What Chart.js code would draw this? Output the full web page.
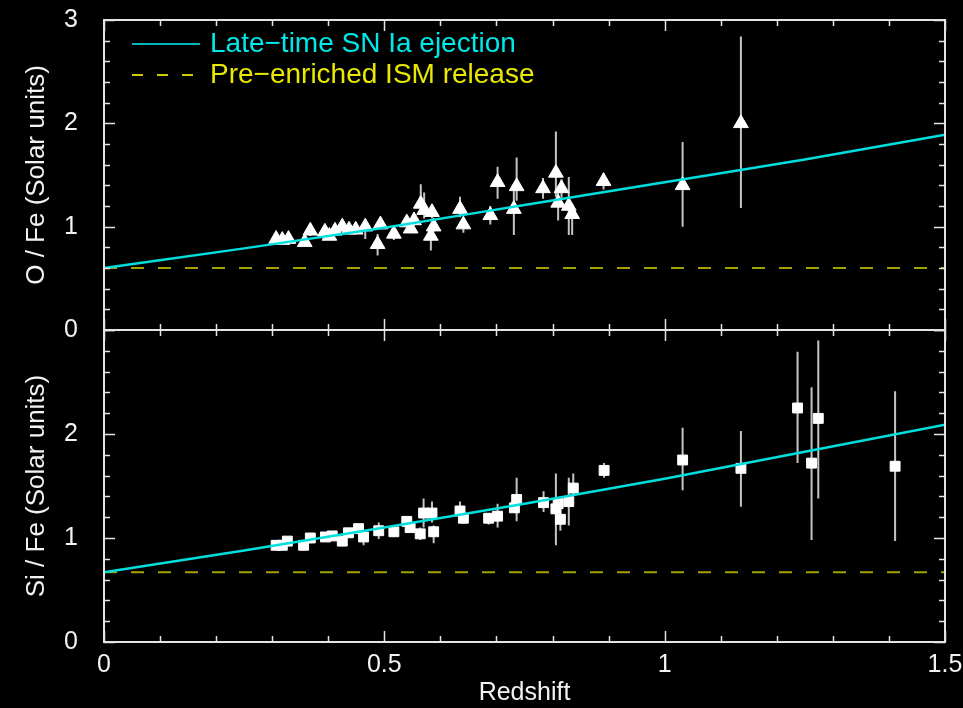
<!DOCTYPE html>
<html>
<head>
<meta charset="utf-8">
<script src="https://cdn.jsdelivr.net/npm/chart.js@4.4.1/dist/chart.umd.min.js"></script>
<style>
  html, body { margin: 0; padding: 0; background: #000; }
  #wrap { position: relative; width: 963px; height: 708px; background: #000; }
  #topBox { position: absolute; left: 0; top: 0; width: 963px; height: 345px; }
  #botBox { position: absolute; left: 0; top: 310px; width: 963px; height: 398px; }
</style>
</head>
<body>
<div id="wrap">
  <div id="topBox"><canvas id="topChart"></canvas></div>
  <div id="botBox"><canvas id="botChart"></canvas></div>
</div>
<script>
// O / Fe panel (triangles)
const oRedshift = [0.307, 0.318, 0.329, 0.358, 0.368, 0.394, 0.402, 0.412, 0.425, 0.437,
  0.449, 0.466, 0.488, 0.493, 0.517, 0.540, 0.547, 0.553, 0.565, 0.571,
  0.585, 0.588, 0.583, 0.635, 0.641, 0.689, 0.702, 0.736, 0.731, 0.783,
  0.806, 0.816, 0.810, 0.829, 0.835, 0.891, 1.032, 1.136];
const oFe = [0.88, 0.87, 0.88, 0.85, 0.96, 0.95, 0.91, 0.96, 1.00, 0.97,
  0.97, 1.00, 0.83, 1.02, 0.93, 1.04, 0.98, 1.06, 1.22, 1.16,
  1.14, 1.00, 0.91, 1.17, 1.02, 1.11, 1.43, 1.39, 1.17, 1.37,
  1.52, 1.37, 1.23, 1.20, 1.12, 1.44, 1.40, 2.00];
const oFeLow = [0.85, 0.84, 0.85, 0.81, 0.91, 0.91, 0.87, 0.92, 0.95, 0.93,
  0.93, 0.88, 0.72, 0.98, 0.87, 0.99, 0.94, 1.01, 1.12, 1.08,
  1.08, 0.95, 0.77, 1.09, 0.94, 1.02, 1.27, 1.25, 0.92, 1.27,
  1.29, 1.28, 1.06, 0.92, 0.92, 1.36, 1.00, 1.18];
const oFeHigh = [0.91, 0.90, 0.91, 0.89, 1.01, 0.99, 0.95, 1.00, 1.05, 1.01,
  1.01, 1.05, 0.93, 1.06, 0.99, 1.09, 1.02, 1.11, 1.41, 1.33,
  1.20, 1.05, 0.99, 1.29, 1.08, 1.20, 1.58, 1.67, 1.35, 1.47,
  1.92, 1.46, 1.36, 1.48, 1.22, 1.52, 1.82, 2.84];

// Si / Fe panel (squares)
const siRedshift = [0.307, 0.318, 0.327, 0.356, 0.368, 0.395, 0.407, 0.425, 0.436, 0.454,
  0.463, 0.490, 0.517, 0.540, 0.546, 0.564, 0.570, 0.585, 0.588, 0.635,
  0.641, 0.686, 0.702, 0.736, 0.732, 0.784, 0.806, 0.810, 0.814, 0.829,
  0.837, 0.892, 1.032, 1.136, 1.237, 1.262, 1.274, 1.411];
const siFe = [0.93, 0.93, 0.97, 0.93, 1.00, 1.01, 1.02, 0.97, 1.05, 1.09,
  1.01, 1.07, 1.06, 1.16, 1.10, 1.04, 1.24, 1.24, 1.06, 1.26,
  1.19, 1.19, 1.21, 1.37, 1.29, 1.34, 1.28, 1.33, 1.18, 1.35,
  1.48, 1.65, 1.75, 1.67, 2.25, 1.72, 2.15, 1.69];
const siFeLow = [0.91, 0.91, 0.94, 0.90, 0.95, 0.98, 0.99, 0.94, 1.02, 1.05,
  0.93, 0.99, 1.01, 1.12, 1.06, 0.98, 1.10, 1.15, 0.95, 1.17,
  1.14, 1.13, 1.10, 1.16, 1.24, 1.25, 0.93, 1.27, 1.07, 1.12,
  1.42, 1.58, 1.46, 1.30, 1.72, 0.98, 1.38, 0.97];
const siFeHigh = [0.95, 0.95, 1.00, 0.96, 1.05, 1.04, 1.05, 1.00, 1.08, 1.13,
  1.05, 1.15, 1.11, 1.20, 1.14, 1.10, 1.38, 1.35, 1.12, 1.35,
  1.24, 1.24, 1.33, 1.58, 1.34, 1.45, 1.62, 1.39, 1.30, 1.58,
  1.62, 1.72, 2.06, 2.03, 2.79, 2.45, 2.90, 2.41];

// model curves
const modelZ = [0, 0.25, 0.5, 0.75, 1, 1.25, 1.5];
const oModel = [0.60, 0.79, 0.99, 1.21, 1.43, 1.65, 1.89];
const siModel = [0.67, 0.88, 1.10, 1.33, 1.57, 1.83, 2.09];
const ismZ = [0, 1.5];
const oIsm = [0.60, 0.60];
const siIsm = [0.67, 0.67];

const legendNames = ['Late\u2212time SN Ia ejection', 'Pre\u2212enriched ISM release'];

const FONT = '"Liberation Sans", Arial, Helvetica, sans-serif';
const CYAN = '#00dede';
const OLIVE = '#a3a300';

function pts(xs, ys) {
  return xs.map((v, i) => ({x: v, y: ys[i]}));
}

// inward ticks + white frame
const frameTicks = {
  id: 'frameTicks',
  afterDraw(chart) {
    const {ctx, chartArea: a, scales: {x, y}} = chart;
    ctx.save();
    ctx.strokeStyle = '#e4e4e4';
    ctx.lineWidth = 1.5;
    ctx.beginPath();
    for (let i = 0; i <= 15; i++) {
      const px = Math.round(x.getPixelForValue(i / 10)) + 0.5;
      const len = i % 5 === 0 ? 11 : 6;
      ctx.moveTo(px, a.bottom); ctx.lineTo(px, a.bottom - len);
      ctx.moveTo(px, a.top); ctx.lineTo(px, a.top + len);
    }
    for (let i = 0; i <= 15; i++) {
      const py = Math.round(y.getPixelForValue(i / 5)) + 0.5;
      const len = i % 5 === 0 ? 11 : 6;
      ctx.moveTo(a.left, py); ctx.lineTo(a.left + len, py);
      ctx.moveTo(a.right, py); ctx.lineTo(a.right - len, py);
    }
    ctx.stroke();
    ctx.lineWidth = 2;
    ctx.strokeRect(a.left, a.top, a.right - a.left, a.bottom - a.top);
    ctx.restore();
  }
};

// vertical error bars under the markers
const errorBars = {
  id: 'errorBars',
  beforeDatasetsDraw(chart, args, opts) {
    const {ctx, scales: {x, y}} = chart;
    ctx.save();
    ctx.strokeStyle = '#c4c4c4';
    ctx.lineWidth = 2;
    ctx.beginPath();
    opts.xs.forEach((v, i) => {
      const px = x.getPixelForValue(v);
      ctx.moveTo(px, y.getPixelForValue(opts.lo[i]));
      ctx.lineTo(px, y.getPixelForValue(opts.hi[i]));
    });
    ctx.stroke();
    ctx.restore();
  }
};

const legendBox = {
  id: 'legendBox',
  afterDraw(chart) {
    const {ctx, chartArea: a} = chart;
    const x0 = a.left + 28, x1 = a.left + 96, tx = a.left + 106;
    const rows = [a.top + 24, a.top + 55];
    ctx.save();
    ctx.font = '28px ' + FONT;
    ctx.textBaseline = 'middle';
    ctx.lineWidth = 2;
    ctx.strokeStyle = '#00b8b8';
    ctx.beginPath(); ctx.moveTo(x0, rows[0]); ctx.lineTo(x1, rows[0]); ctx.stroke();
    ctx.fillStyle = '#00e8e8';
    ctx.fillText(legendNames[0], tx, rows[0]);
    ctx.strokeStyle = '#cccc00';
    ctx.setLineDash([11, 14]);
    ctx.beginPath(); ctx.moveTo(x0, rows[1]); ctx.lineTo(x1, rows[1]); ctx.stroke();
    ctx.setLineDash([]);
    ctx.fillStyle = '#e8e800';
    ctx.fillText(legendNames[1], tx, rows[1]);
    ctx.restore();
  }
};

function makeConfig(o) {
  return {
    type: 'scatter',
    data: {
      datasets: [
        {
          type: 'line',
          data: pts(modelZ, o.model),
          borderColor: CYAN,
          borderWidth: 2.5,
          pointRadius: 0,
          tension: 0.4,
          cubicInterpolationMode: 'monotone',
          fill: false
        },
        {
          type: 'line',
          data: pts(ismZ, o.ism),
          borderColor: OLIVE,
          borderWidth: 2,
          borderDash: [13, 14],
          pointRadius: 0,
          fill: false
        },
        {
          data: pts(o.xs, o.ys),
          pointStyle: o.marker,
          pointRadius: o.radius,
          pointBackgroundColor: '#ffffff',
          pointBorderColor: '#ffffff',
          pointBorderWidth: 1
        }
      ]
    },
    options: {
      responsive: false,
      animation: false,
      devicePixelRatio: 1,
      layout: { padding: o.padding, autoPadding: false },
      plugins: {
        legend: { display: false },
        tooltip: { enabled: false },
        errorBars: { xs: o.xs, lo: o.lo, hi: o.hi }
      },
      scales: {
        x: {
          type: 'linear',
          min: 0,
          max: 1.5,
          display: o.showX,
          grid: { display: false },
          border: { display: false },
          afterFit: (s) => {
            if (o.showX) s.height = 66;
            s.paddingLeft = 0; s.paddingRight = 0;
          },
          ticks: {
            stepSize: 0.5,
            color: '#f2f2f2',
            padding: 0,
            font: { family: FONT, size: 25 },
            callback: (v) => String(v)
          },
          title: {
            display: true,
            text: 'Redshift',
            color: '#f2f2f2',
            padding: { top: 0, bottom: 0 },
            font: { family: FONT, size: 25 }
          }
        },
        y: {
          min: 0,
          max: 3,
          grid: { display: false },
          border: { display: false },
          afterFit: (s) => {
            s.width = 104;
            s.paddingTop = 0; s.paddingBottom = 0;
          },
          ticks: {
            stepSize: 1,
            color: '#f2f2f2',
            padding: 18,
            font: { family: FONT, size: 25 },
            callback: (v) => (o.hideTop && v === 3 ? '' : String(v))
          },
          title: {
            display: true,
            text: o.yTitle,
            color: '#f2f2f2',
            padding: { top: 21, bottom: 0 },
            font: { family: FONT, size: 26 }
          }
        }
      }
    },
    plugins: o.extra.concat([errorBars, frameTicks])
  };
}

function sizeCanvas(id, w, h) {
  const c = document.getElementById(id);
  c.width = w; c.height = h;
  c.style.width = w + 'px'; c.style.height = h + 'px';
  return c;
}

const topChart = new Chart(sizeCanvas('topChart', 963, 345), makeConfig({
  model: oModel, ism: oIsm, xs: oRedshift, ys: oFe, lo: oFeLow, hi: oFeHigh,
  marker: 'triangle', radius: 8.5, yTitle: 'O / Fe (Solar units)',
  showX: false, hideTop: false,
  padding: { top: 20, right: 18, bottom: 15, left: 0 },
  extra: [legendBox]
}));

const botChart = new Chart(sizeCanvas('botChart', 963, 398), makeConfig({
  model: siModel, ism: siIsm, xs: siRedshift, ys: siFe, lo: siFeLow, hi: siFeHigh,
  marker: 'rect', radius: 7, yTitle: 'Si / Fe (Solar units)',
  showX: true, hideTop: true,
  padding: { top: 20, right: 18, bottom: 0, left: 0 },
  extra: []
}));
</script>
</body>
</html>
